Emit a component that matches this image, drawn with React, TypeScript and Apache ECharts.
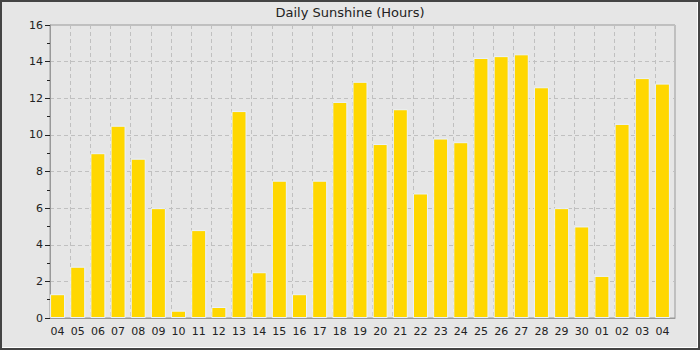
import React, { useEffect, useRef } from "react";
import * as echarts from "echarts";

const days = ["04","05","06","07","08","09","10","11","12","13","14","15","16","17","18","19","20","21","22","23","24","25","26","27","28","29","30","01","02","03","04"];
const sunshine = [1.3,2.8,9.0,10.5,8.7,6.0,0.4,4.8,0.6,11.3,2.5,7.5,1.3,7.5,11.8,12.9,9.5,11.4,6.8,9.8,9.6,14.2,14.3,14.4,12.6,6.0,5.0,2.3,10.6,13.1,12.8];
const spacer = days.map(() => 0);
const titleText = "Daily Sunshine (Hours)";

export default function App() {
  const ref = useRef<HTMLDivElement>(null);
  useEffect(() => {
    document.body.style.margin = "0";
    const chart = echarts.init(ref.current!, null, { renderer: "svg" });
    chart.setOption({
      animation: false,
      backgroundColor: "#e6e6e6",
      title: {
        text: titleText,
        left: "center",
        top: 1,
        textStyle: { fontFamily: "DejaVu Sans", fontSize: 13, fontWeight: "normal", color: "#222" },
      },
      grid: {
        left: 50, right: 25, top: 25, bottom: 32,
        show: true, borderColor: "#999", borderWidth: 1, backgroundColor: "transparent",
      },
      xAxis: {
        type: "category",
        data: days,
        axisLine: { lineStyle: { color: "#999" } },
        axisTick: { show: false },
        axisLabel: { fontFamily: "DejaVu Sans", fontSize: 11, color: "#222", margin: 8, interval: 0, padding: [0, 5, 0, 0] },
        splitLine: { show: true, lineStyle: { color: "#c0c0c0", type: [4, 3] } },
      },
      yAxis: {
        type: "value",
        min: 0, max: 16, interval: 2,
        axisLine: { show: true, lineStyle: { color: "#999" } },
        axisTick: { show: true, length: 5, lineStyle: { color: "#222" } },
        minorTick: { show: true, splitNumber: 2, length: 3, lineStyle: { color: "#222" } },
        axisLabel: { fontFamily: "DejaVu Sans", fontSize: 11, color: "#222", margin: 7 },
        splitLine: { show: true, lineStyle: { color: "#c0c0c0", type: [4, 3] } },
      },
      series: [
        {
          type: "bar",
          data: sunshine,
          barWidth: 15,
          barGap: 0,
          itemStyle: { color: "#FFD700", borderColor: "#eaf2ff", borderWidth: 1 },
        },
        {
          type: "bar",
          data: spacer,
          barWidth: 5,
          silent: true,
          itemStyle: { color: "transparent", borderWidth: 0 },
        },
      ],
      graphic: [
        { type: "rect", shape: { x: 1, y: 1, width: 698, height: 348 }, style: { fill: "none", stroke: "#444", lineWidth: 2 }, silent: true },
        { type: "line", shape: { x1: 697.5, y1: 2, x2: 697.5, y2: 347.5 }, style: { stroke: "#fff", lineWidth: 1 }, silent: true },
        { type: "line", shape: { x1: 2, y1: 347.5, x2: 697.5, y2: 347.5 }, style: { stroke: "#fff", lineWidth: 1 }, silent: true },
      ],
    });
    return () => chart.dispose();
  }, []);
  return <div ref={ref} style={{ width: 700, height: 350 }} />;
}
